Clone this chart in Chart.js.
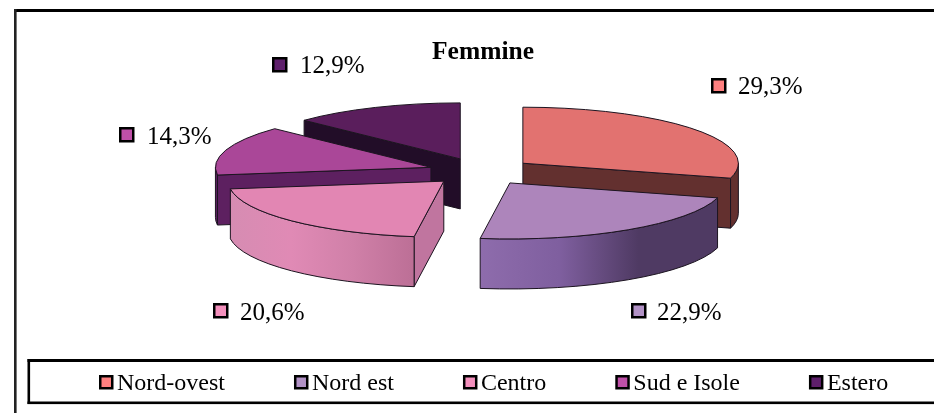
<!DOCTYPE html>
<html>
<head>
<meta charset="utf-8">
<style>html,body{margin:0;padding:0;background:#fff;overflow:hidden}canvas{display:block}</style>
<script src="https://cdn.jsdelivr.net/npm/chart.js@4/dist/chart.umd.min.js"></script>
</head>
<body>
<canvas id="c" width="934" height="413"></canvas>
<script>
const categories = ["Nord-ovest", "Nord est", "Centro", "Sud e Isole", "Estero"];
const shares = [29.3, 22.9, 20.6, 14.3, 12.9];
const chartTitle = "Femmine";
const topColors = ["#E27270", "#AD85BB", "#E286B3", "#AA4798", "#5A1E5C"];
const swatchColors = ["#FF8080", "#B292C6", "#F490BD", "#BF50A8", "#5E1F6B"];
const sideColors = ["#63302F", "#4F3A63", "#C0759F", "#5D2060", "#220D28"];
const outerStops = [
  ["#63302F", "#63302F"],
  ["#8E6CAC", "#7F5F9F", "#4F3A63", "#4F3A63"],
  ["#D68CB2", "#E08AB5", "#D080A8", "#BC6F96"],
  ["#5D2060", "#5D2060"],
  ["#220D28", "#220D28"]
];

const FONT = "'Liberation Serif'";
const PIE = {x: 481, y: 171.5, tilt: 0.26, depth: 50, explode: 52.6};
const PAINT_ORDER = [4, 3, 2, 0, 1];
// Swatch left, swatch top and text left/baseline of each value label
const VALUE_LABEL_SPOTS = [
  [711, 78, 738, 94],
  [631, 303, 657, 320],
  [213, 303, 240, 320],
  [119, 127, 147, 144],
  [272, 57, 300, 73]
];

function swatch(ctx, x, y, size, color) {
  ctx.fillStyle = "#000";
  ctx.fillRect(x, y, size, size);
  ctx.fillStyle = color;
  ctx.fillRect(x + 2.5, y + 2.5, size - 5, size - 5);
}

const pie3d = {
  id: "pie3d",
  beforeDraw(chart) {
    const ctx = chart.ctx;
    ctx.save();
    ctx.fillStyle = "#fff";
    ctx.fillRect(0, 0, chart.width, chart.height);
    ctx.fillStyle = "#000";
    // outer frame (runs off the right and bottom of the picture)
    ctx.fillRect(14, 9, chart.width, 3);
    ctx.fillStyle = "#222";
    ctx.fillRect(14, 9, 2.6, chart.height);
    // legend frame
    ctx.fillStyle = "#000";
    ctx.fillRect(27.5, 359, chart.width, 3);
    ctx.fillRect(27.5, 401.5, chart.width, 2.6);
    ctx.fillRect(27.5, 359, 2.6, 45);
    ctx.restore();
  },
  beforeDatasetsDraw(chart) {
    const ctx = chart.ctx;
    const arcs = chart.getDatasetMeta(0).data;
    const geo = arcs.map(arc => {
      const mid = (arc.startAngle + arc.endAngle) / 2;
      const ax = PIE.x + Math.cos(mid) * PIE.explode;
      const ay = PIE.y + Math.sin(mid) * PIE.explode * PIE.tilt;
      const r = arc.outerRadius;
      const at = t => [ax + r * Math.cos(t), ay + r * PIE.tilt * Math.sin(t)];
      return {arc, mid, ax, ay, r, at, a: arc.startAngle, b: arc.endAngle};
    });
    ctx.save();
    ctx.lineWidth = 1;
    ctx.lineJoin = "round";
    ctx.strokeStyle = "#1c1420";
    PAINT_ORDER.forEach(i => {
      const g = geo[i];
      const radial = t => {
        const p = g.at(t);
        ctx.beginPath();
        ctx.moveTo(g.ax, g.ay);
        ctx.lineTo(p[0], p[1]);
        ctx.lineTo(p[0], p[1] + PIE.depth);
        ctx.lineTo(g.ax, g.ay + PIE.depth);
        ctx.closePath();
        ctx.fillStyle = sideColors[i];
        ctx.fill();
        ctx.stroke();
      };
      if (Math.cos(g.a) < -1e-6) radial(g.a);
      if (Math.cos(g.b) > 1e-6) radial(g.b);
      const t0 = Math.max(g.a, 0), t1 = Math.min(g.b, Math.PI);
      if (t1 > t0) {
        const p0 = g.at(t0), p1 = g.at(t1);
        const left = Math.min(p0[0], p1[0]), right = Math.max(p0[0], p1[0]);
        const grad = ctx.createLinearGradient(left, 0, right, 0);
        outerStops[i].forEach((c, k, all) => grad.addColorStop(k / (all.length - 1), c));
        ctx.beginPath();
        ctx.ellipse(g.ax, g.ay, g.r, g.r * PIE.tilt, 0, t0, t1, false);
        ctx.lineTo(p1[0], p1[1] + PIE.depth);
        ctx.ellipse(g.ax, g.ay + PIE.depth, g.r, g.r * PIE.tilt, 0, t1, t0, true);
        ctx.closePath();
        ctx.fillStyle = grad;
        ctx.fill();
        ctx.stroke();
      }
    });
    PAINT_ORDER.forEach(i => {
      const g = geo[i];
      ctx.save();
      ctx.translate(g.ax, g.ay);
      ctx.scale(1, PIE.tilt);
      ctx.translate(-g.arc.x, -g.arc.y);
      g.arc.draw(ctx);
      ctx.restore();
      const p = g.at(g.a);
      ctx.beginPath();
      ctx.moveTo(g.ax, g.ay);
      ctx.lineTo(p[0], p[1]);
      ctx.ellipse(g.ax, g.ay, g.r, g.r * PIE.tilt, 0, g.a, g.b, false);
      ctx.closePath();
      ctx.stroke();
    });
    ctx.restore();
    return false;
  },
  afterDraw(chart) {
    const ctx = chart.ctx;
    ctx.save();
    // value labels
    ctx.font = "25px " + FONT;
    ctx.textAlign = "left";
    ctx.textBaseline = "alphabetic";
    shares.forEach((v, i) => {
      const s = VALUE_LABEL_SPOTS[i];
      swatch(ctx, s[0], s[1], 15.5, swatchColors[i]);
      ctx.fillStyle = "#000";
      ctx.fillText(v.toFixed(1).replace(".", ",") + "%", s[2], s[3]);
    });
    // legend swatches sit just before each native legend label
    chart.legend.legendHitBoxes.forEach((box, i) => {
      swatch(ctx, box.left + 69, 375, 14.5, swatchColors[i]);
    });
    ctx.restore();
  }
};

new Chart(document.getElementById("c"), {
  type: "pie",
  data: {
    labels: categories,
    datasets: [{data: shares, backgroundColor: topColors, borderWidth: 0, radius: 215.5}]
  },
  plugins: [pie3d],
  options: {
    responsive: false,
    animation: false,
    events: [],
    layout: {padding: {left: 30, right: -2, top: 10, bottom: 7}},
    plugins: {
      tooltip: {enabled: false},
      title: {
        display: true,
        text: chartTitle,
        color: "#000",
        font: {family: FONT, size: 25.5, weight: "bold"},
        padding: {top: 27, bottom: 4}
      },
      legend: {
        display: true,
        position: "bottom",
        align: "start",
        labels: {
          color: "#000",
          font: {family: FONT, size: 24},
          boxWidth: 75,
          padding: 0,
          generateLabels(chart) {
            return chart.data.labels.map((text, i) => ({
              text, index: i, fillStyle: "rgba(0,0,0,0)", strokeStyle: "rgba(0,0,0,0)", lineWidth: 0, hidden: false
            }));
          }
        }
      }
    }
  }
});
</script>
</body>
</html>
